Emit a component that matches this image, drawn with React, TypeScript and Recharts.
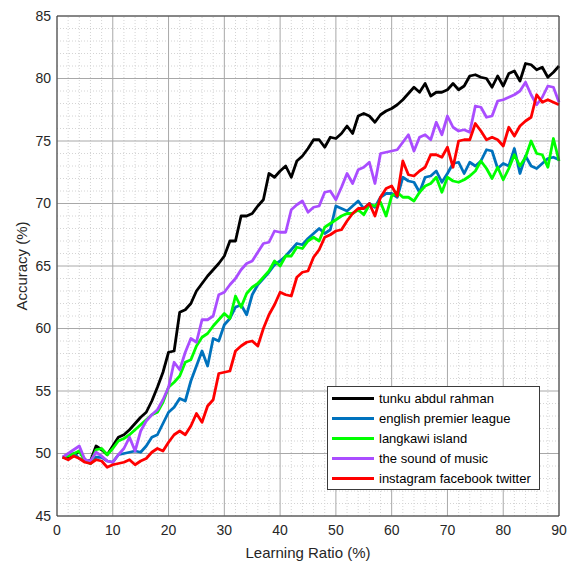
import {
  LineChart,
  Line,
  XAxis,
  YAxis,
  Legend,
  ReferenceLine,
} from 'recharts'

// ---------------------------------------------------------------------------
// Data — accuracy (%) per learning ratio (%)
// ---------------------------------------------------------------------------

const LEARNING_RATIO = [
  1, 2, 3, 4, 5, 6, 7, 8, 9, 10, 11, 12, 13, 14, 15, 16, 17, 18, 19, 20,
  21, 22, 23, 24, 25, 26, 27, 28, 29, 30, 31, 32, 33, 34, 35, 36, 37, 38, 39, 40,
  41, 42, 43, 44, 45, 46, 47, 48, 49, 50, 51, 52, 53, 54, 55, 56, 57, 58, 59, 60,
  61, 62, 63, 64, 65, 66, 67, 68, 69, 70, 71, 72, 73, 74, 75, 76, 77, 78, 79, 80,
  81, 82, 83, 84, 85, 86, 87, 88, 89, 90,
]

const TUNKU = [
  49.7, 49.6, 49.8, 50.2, 49.5, 49.4, 50.6, 50.3, 49.9, 50.6,
  51.3, 51.5, 51.9, 52.4, 52.9, 53.3, 54.2, 55.3, 56.5, 58.1,
  58.2, 61.3, 61.5, 62.0, 63.0, 63.6, 64.2, 64.7, 65.2, 65.8,
  67.0, 67.0, 69.0, 69.0, 69.2, 69.8, 70.3, 72.4, 72.1, 72.6,
  73.0, 72.1, 73.4, 73.8, 74.4, 75.1, 75.1, 74.5, 75.3, 75.2,
  75.6, 76.2, 75.6, 77.0, 77.2, 77.0, 76.5, 77.1, 77.4, 77.6,
  77.9, 78.3, 78.8, 79.3, 78.9, 79.6, 78.6, 78.9, 78.9, 79.1,
  79.6, 79.1, 79.4, 80.2, 80.3, 80.1, 80.0, 79.3, 80.2, 79.4,
  80.4, 80.6, 79.8, 81.2, 81.1, 80.7, 80.9, 80.1, 80.5, 81.0,
]

const PREMIER = [
  49.7, 49.9, 50.0, 49.6, 49.4, 49.2, 49.7, 49.7, 49.4, 49.3,
  49.9, 50.0, 50.1, 50.2, 50.1, 50.6, 51.3, 51.5, 52.4, 53.3,
  53.7, 54.4, 54.2, 55.8, 57.0, 58.2, 57.0, 59.2, 59.0, 60.3,
  60.8, 61.7, 61.9, 61.1, 62.7, 63.5, 64.0, 64.5, 65.1, 65.4,
  65.8, 66.3, 66.8, 66.7, 67.2, 67.6, 68.0, 67.6, 67.9, 69.8,
  69.6, 69.4, 69.8, 70.2, 69.6, 70.0, 69.7, 70.5, 70.8, 70.8,
  70.5, 72.1, 71.8, 71.7, 70.9, 72.1, 72.2, 72.6, 71.7, 72.4,
  73.2, 73.3, 72.4, 73.3, 73.0, 73.4, 74.3, 74.2, 72.8, 73.2,
  73.0, 74.4, 72.4, 73.8, 73.0, 72.8, 73.2, 73.6, 73.7, 73.5,
]

const LANGKAWI = [
  49.7, 49.8, 50.0, 50.2, 49.4, 49.2, 50.3, 50.4, 49.9, 50.4,
  51.0, 51.2, 51.5, 51.9, 52.3, 52.7, 53.1, 53.3, 54.1, 55.3,
  55.7, 56.2, 57.3, 57.5, 58.6, 59.3, 59.6, 60.2, 60.7, 61.2,
  60.8, 62.6, 61.7, 62.8, 63.3, 63.6, 64.1, 64.6, 65.4, 65.0,
  65.8, 65.8, 66.5, 66.4, 67.0, 67.3, 67.0, 68.1, 68.4, 68.7,
  69.0, 69.2, 69.2, 69.5, 69.1, 69.9, 69.8, 70.1, 69.0, 70.6,
  70.9, 70.5, 70.5, 70.2, 70.9, 71.4, 71.6, 72.1, 70.9, 72.1,
  71.8, 71.7, 71.9, 72.2, 72.6, 73.4, 72.8, 72.0, 72.9, 71.9,
  72.8, 73.9, 73.0, 73.7, 75.0, 74.0, 73.9, 72.9, 75.2, 73.4,
]

const SOUND_OF_MUSIC = [
  49.7, 50.0, 50.3, 50.6, 49.5, 49.4, 50.1, 49.8, 49.4, 49.3,
  49.9, 50.4, 51.3, 50.2, 51.8, 52.6, 53.1, 53.5, 54.3, 55.3,
  57.3, 56.7, 58.1, 59.2, 58.9, 60.7, 60.7, 61.0, 62.7, 62.9,
  63.5, 64.0, 64.7, 65.2, 65.4, 66.1, 66.8, 66.9, 67.8, 67.7,
  67.7, 69.5, 69.9, 70.2, 69.3, 69.7, 69.8, 70.9, 71.0, 70.3,
  71.3, 72.4, 71.6, 72.7, 72.9, 73.3, 71.6, 74.0, 74.1, 74.2,
  74.3, 74.9, 75.5, 74.2, 75.3, 75.5, 75.1, 76.5, 75.5, 77.0,
  76.1, 75.8, 75.9, 75.7, 77.8, 77.7, 76.9, 77.0, 78.2, 78.3,
  78.5, 78.7, 79.0, 79.7, 78.7, 77.9, 78.5, 79.4, 79.3, 78.1,
]

const INSTAGRAM = [
  49.7, 49.5, 49.8, 49.6, 49.3, 49.2, 49.5, 49.4, 48.9, 49.1,
  49.2, 49.3, 49.5, 49.1, 49.4, 49.6, 50.1, 50.4, 50.2, 50.9,
  51.5, 51.8, 51.5, 52.2, 53.2, 52.5, 53.8, 54.3, 56.4, 56.5,
  56.6, 58.2, 58.6, 58.9, 59.0, 58.6, 60.0, 61.1, 61.9, 62.9,
  62.7, 62.6, 64.1, 64.5, 64.6, 65.7, 66.3, 67.3, 67.5, 67.8,
  67.9, 68.6, 69.2, 69.6, 69.6, 70.0, 69.0, 70.5, 71.2, 71.4,
  70.6, 73.4, 72.3, 72.2, 72.6, 72.9, 73.9, 73.9, 73.7, 74.5,
  72.9, 75.0, 75.1, 75.1, 76.4, 75.8, 75.1, 75.3, 75.1, 74.6,
  76.1, 75.4, 76.2, 76.6, 76.9, 78.7, 78.1, 78.3, 78.1, 77.9,
]

const X_TICKS = [0, 10, 20, 30, 40, 50, 60, 70, 80, 90]
const Y_TICKS = [45, 50, 55, 60, 65, 70, 75, 80, 85]
const X_MINOR = [2, 4, 6, 8, 12, 14, 16, 18, 22, 24, 26, 28, 32, 34, 36, 38, 42, 44, 46, 48,
  52, 54, 56, 58, 62, 64, 66, 68, 72, 74, 76, 78, 82, 84, 86, 88]
const Y_MINOR = [46, 47, 48, 49, 51, 52, 53, 54, 56, 57, 58, 59, 61, 62, 63, 64,
  66, 67, 68, 69, 71, 72, 73, 74, 76, 77, 78, 79, 81, 82, 83, 84]

// ---------------------------------------------------------------------------
// Series styling
// ---------------------------------------------------------------------------

const SERIES = [
  { key: 'tunku', name: 'tunku abdul rahman', color: '#000000', values: TUNKU },
  { key: 'premier', name: 'english premier league', color: '#0072BD', values: PREMIER },
  { key: 'langkawi', name: 'langkawi island', color: '#00FF00', values: LANGKAWI },
  { key: 'sound', name: 'the sound of music', color: '#AA4DFF', values: SOUND_OF_MUSIC },
  { key: 'instagram', name: 'instagram facebook twitter', color: '#FF0000', values: INSTAGRAM },
]

const FONT = '"Liberation Sans", Arial, Helvetica, sans-serif'
const AXIS_TEXT = '#262626'
const FRAME = '#3a3a3a'

const data = LEARNING_RATIO.map((x, i) => {
  const row: Record<string, number> = { x }
  SERIES.forEach(s => { row[s.key] = s.values[i] })
  return row
})

function BoxLegend() {
  return (
    <div
      style={{
        border: `1px solid ${FRAME}`,
        background: '#fff',
        padding: '1px 8px 1px 4px',
        fontFamily: FONT,
        fontSize: 13,
        color: '#000',
      }}
    >
      {SERIES.map(s => (
        <div key={s.key} style={{ display: 'flex', alignItems: 'center', height: 20 }}>
          <span
            style={{
              display: 'inline-block',
              width: 42,
              height: 0,
              borderTop: `3px solid ${s.color}`,
              marginRight: 5,
            }}
          />
          <span style={{ whiteSpace: 'nowrap' }}>{s.name}</span>
        </div>
      ))}
    </div>
  )
}

export default function App() {
  return (
    <div style={{ position: 'absolute', left: 0, top: 0, width: 567, height: 561, background: '#fff' }}>
      <LineChart
        width={567}
        height={561}
        data={data}
        margin={{ top: 16, right: 8, left: 0, bottom: 0 }}
      >
        <XAxis
          dataKey="x"
          type="number"
          domain={[0, 90]}
          ticks={X_TICKS}
          interval={0}
          height={45}
          tickSize={0}
          tickMargin={9}
          axisLine={false}
          tick={{ fontSize: 14, fill: AXIS_TEXT, fontFamily: FONT }}
          label={{
            value: 'Learning Ratio (%)',
            position: 'insideBottom',
            offset: 3,
            fontSize: 15,
            fill: AXIS_TEXT,
            fontFamily: FONT,
          }}
        />
        <YAxis
          type="number"
          domain={[45, 85]}
          ticks={Y_TICKS}
          interval={0}
          width={57}
          tickSize={0}
          tickMargin={6}
          axisLine={false}
          tick={{ fontSize: 14, fill: AXIS_TEXT, fontFamily: FONT }}
          label={{
            value: 'Accuracy (%)',
            angle: -90,
            position: 'center',
            dx: -7,
            fontSize: 15,
            fill: AXIS_TEXT,
            fontFamily: FONT,
          }}
        />

        {/* Minor grid (dotted) */}
        {X_MINOR.map(v => (
          <ReferenceLine key={'mx' + v} x={v} stroke="#d4d4d4" strokeDasharray="1 2" />
        ))}
        {Y_MINOR.map(v => (
          <ReferenceLine key={'my' + v} y={v} stroke="#d4d4d4" strokeDasharray="1 2" />
        ))}
        {/* Major grid (solid) */}
        {X_TICKS.map(v => (
          <ReferenceLine key={'Mx' + v} x={v} stroke="#a8a8a8" />
        ))}
        {Y_TICKS.map(v => (
          <ReferenceLine key={'My' + v} y={v} stroke="#a8a8a8" />
        ))}

        <Legend
          layout="vertical"
          align="center"
          verticalAlign="middle"
          content={<BoxLegend />}
          wrapperStyle={{ left: 327, top: 386, width: 'auto', height: 'auto' }}
        />

        {SERIES.map(s => (
          <Line
            key={s.key}
            type="linear"
            dataKey={s.key}
            name={s.name}
            stroke={s.color}
            strokeWidth={2.8}
            strokeLinejoin="round"
            dot={false}
            activeDot={false}
            isAnimationActive={false}
          />
        ))}

        {/* Axes box */}
        <ReferenceLine x={0} stroke={FRAME} />
        <ReferenceLine x={90} stroke={FRAME} />
        <ReferenceLine y={45} stroke={FRAME} />
        <ReferenceLine y={85} stroke={FRAME} />
      </LineChart>
    </div>
  )
}
